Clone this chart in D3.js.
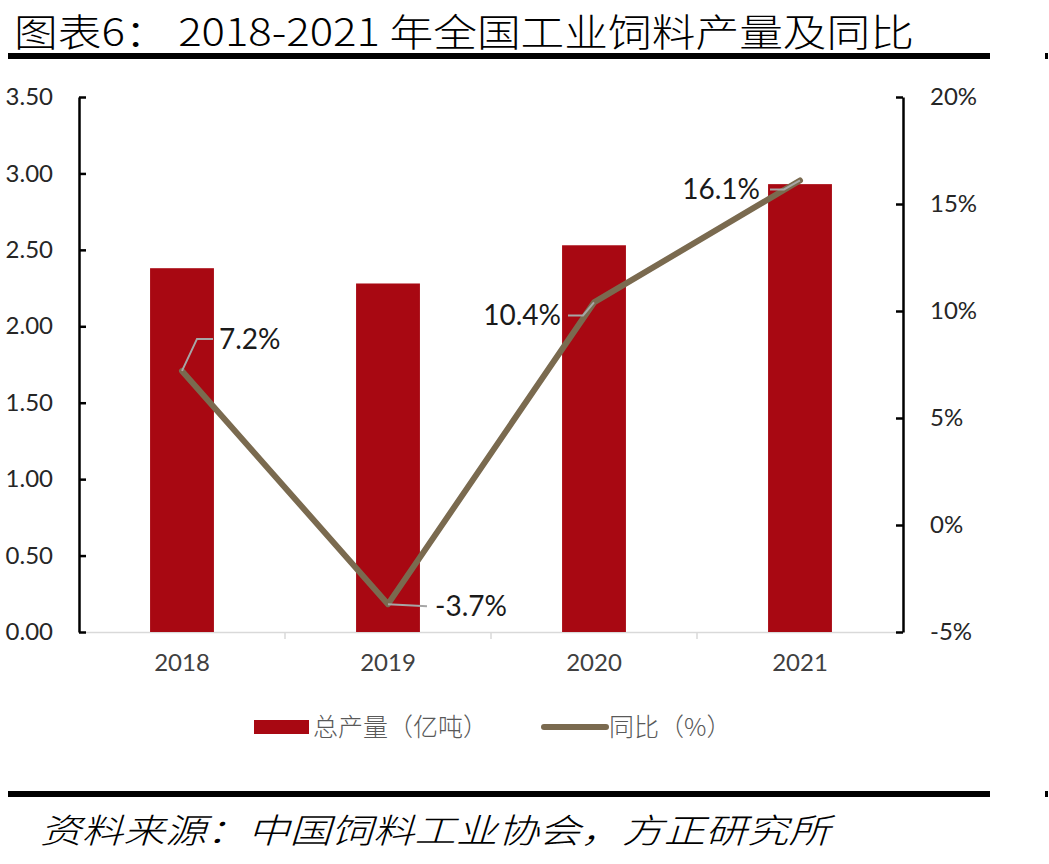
<!DOCTYPE html>
<html><head><meta charset="utf-8">
<script src="https://cdn.jsdelivr.net/npm/d3@7/dist/d3.min.js"></script>
<style>body{margin:0;background:#fff}svg{display:block}</style>
</head><body>
<svg id="c" width="1049" height="864"></svg>
<script>
const categories = ["2018","2019","2020","2021"];
const output = [2.38, 2.28, 2.53, 2.93];      // 总产量（亿吨）
const yoy = [7.2, -3.7, 10.4, 16.1];          // 同比（%）
const leftTicks = [0,0.5,1,1.5,2,2.5,3,3.5];
const rightTicks = [-5,0,5,10,15,20];
const titleText = "图表6：  2018-2021 年全国工业饲料产量及同比";
const sourceText = "资料来源：中国饲料工业协会，方正研究所";
const legendLabels = ["总产量（亿吨）","同比（%）"];

const svg = d3.select("#c");
const L = 79, R = 903, T = 97, B = 632;
const barColor = "#A80812", lineColor = "#7A6A4F";
const numFont = "Lato, 'Open Sans', sans-serif";
const cjk = "'Noto Sans CJK SC', sans-serif";

const x = d3.scaleBand().domain(categories).range([L, R]).padding(0);
const yL = d3.scaleLinear().domain([0, 3.5]).range([B, T]);
const yR = d3.scaleLinear().domain([-5, 20]).range([B, T]);

// title
svg.append("text").attr("x", 14).attr("y", 46).attr("font-family", cjk).attr("font-weight", 300)
  .attr("font-size", 38).attr("fill", "#000").attr("textLength", 900).attr("lengthAdjust","spacingAndGlyphs")
  .text(titleText);
svg.append("rect").attr("x", 8).attr("y", 53).attr("width", 982).attr("height", 6).attr("fill", "#000");
svg.append("rect").attr("x", 1045).attr("y", 53).attr("width", 3).attr("height", 6).attr("fill", "#000");
svg.append("rect").attr("x", 8).attr("y", 791).attr("width", 982).attr("height", 6).attr("fill", "#000");
svg.append("rect").attr("x", 1045).attr("y", 791).attr("width", 3).attr("height", 6).attr("fill", "#000");
svg.append("text").attr("x", 40).attr("y", 843).attr("font-family", "'Noto Sans CJK SC', sans-serif")
  .attr("font-weight", 300)
  .attr("font-style","italic").attr("font-size", 34).attr("fill", "#000")
  .attr("textLength", 790).attr("lengthAdjust","spacingAndGlyphs").text(sourceText);

// x baseline and boundary ticks
const xa = svg.append("g").attr("transform", `translate(0,${B})`)
  .call(d3.axisBottom(x).tickSize(0).tickPadding(22).tickSizeOuter(0));
xa.select(".domain").attr("stroke", "#d9d9d9").attr("stroke-width", 1.5);
xa.selectAll("text").attr("font-family", numFont).attr("font-size", 24).attr("fill", "#404040");
svg.append("g").selectAll("line").data(categories.slice(1)).join("line")
  .attr("x1", d => x(d)).attr("x2", d => x(d)).attr("y1", B).attr("y2", B + 7)
  .attr("stroke", "#d9d9d9").attr("stroke-width", 1.5);

// bars
const bw = x.bandwidth() * 0.31;
svg.append("g").selectAll("rect").data(categories).join("rect")
  .attr("x", d => x(d) + x.bandwidth()/2 - bw/2).attr("width", bw)
  .attr("y", (d,i) => yL(output[i])).attr("height", (d,i) => B - yL(output[i]))
  .attr("fill", barColor);

// left axis
const la = svg.append("g").attr("transform", `translate(${L},0)`)
  .call(d3.axisLeft(yL).tickValues(leftTicks).tickFormat(d3.format(".2f")).tickSize(-7).tickSizeOuter(0).tickPadding(26));
la.select(".domain").attr("stroke", "#000").attr("stroke-width", 2.5);
la.selectAll(".tick line").attr("stroke", "#000").attr("stroke-width", 2.5);
la.selectAll("text").attr("font-family", numFont).attr("font-size", 24).attr("fill", "#262626");

// right axis
const ra = svg.append("g").attr("transform", `translate(${R},0)`)
  .call(d3.axisRight(yR).tickValues(rightTicks).tickFormat(d => d + "%").tickSize(-7).tickSizeOuter(0).tickPadding(27));
ra.select(".domain").attr("stroke", "#000").attr("stroke-width", 2.5);
ra.selectAll(".tick line").attr("stroke", "#000").attr("stroke-width", 2.5);
ra.selectAll("text").attr("font-family", numFont).attr("font-size", 24).attr("fill", "#262626");

// line
const cx = d => x(d) + x.bandwidth()/2;
const pts = categories.map((c,i) => [cx(c), yR(yoy[i])]);
svg.append("path").datum(pts).attr("d", d3.line())
  .attr("fill", "none").attr("stroke", lineColor).attr("stroke-width", 6)
  .attr("stroke-linejoin", "round").attr("stroke-linecap", "round");

// data labels with leader lines
const lab = [
  {dx:[ [15,-32],[31,-32] ], tx:37, ty:-32, anchor:"start"},
  {dx:[ [39,2] ], tx:47, ty:2, anchor:"start"},
  {dx:[ [-11,13],[-26,13] ], tx:-33, ty:13, anchor:"end"},
  {dx:[ [-16,9],[-30,9] ], tx:-40, ty:9, anchor:"end"}
];
pts.forEach((p,i) => {
  const l = lab[i];
  const path = [p].concat(l.dx.map(o => [p[0]+o[0], p[1]+o[1]]));
  svg.append("path").attr("d", d3.line()(path)).attr("fill","none")
    .attr("stroke", "#a6a6a6").attr("stroke-width", 2);
  svg.append("text").attr("x", p[0]+l.tx).attr("y", p[1]+l.ty).attr("dy", "0.35em")
    .attr("text-anchor", l.anchor).attr("font-family", numFont).attr("font-size", 28)
    .attr("fill", "#1a1a1a").text(yoy[i].toFixed(1) + "%");
});

// legend
const lg = svg.append("g");
lg.append("rect").attr("x", 254).attr("y", 720).attr("width", 55).attr("height", 14).attr("fill", barColor);
lg.append("text").attr("x", 313).attr("y", 727).attr("dy","0.35em").attr("font-family", cjk).attr("font-weight", 300)
  .attr("font-size", 25).attr("fill", "#595959").text(legendLabels[0]);
lg.append("line").attr("x1", 544).attr("x2", 606).attr("y1", 727).attr("y2", 727)
  .attr("stroke", lineColor).attr("stroke-width", 6).attr("stroke-linecap", "round");
lg.append("text").attr("x", 609).attr("y", 727).attr("dy","0.35em").attr("font-family", cjk).attr("font-weight", 300)
  .attr("font-size", 25).attr("fill", "#595959").text(legendLabels[1]);
</script>
</body></html>
